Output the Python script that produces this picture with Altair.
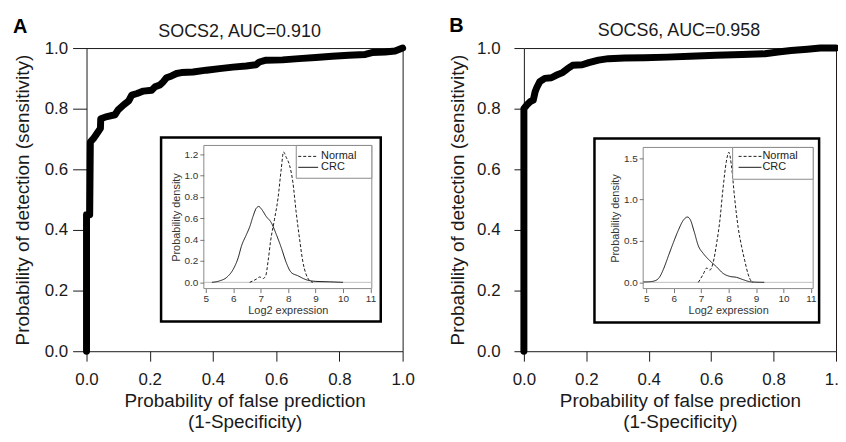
import altair as alt
import pandas as pd

FONT = "Liberation Sans"

# ---------------- data ----------------
series_names = ["Normal", "CRC"]
panel_letters = ["A", "B"]
panel_titles = ["SOCS2, AUC=0.910", "SOCS6, AUC=0.958"]
main_ticks = [0.0, 0.2, 0.4, 0.6, 0.8, 1.0]
inset_x_ticks = [5, 6, 7, 8, 9, 10, 11]
inset_y_ticks_a = [0.0, 0.2, 0.4, 0.6, 0.8, 1.0, 1.2]
inset_y_ticks_b = [0.0, 0.5, 1.0, 1.5]

roc_a_fpr = [0, 0, 0.01, 0.012, 0.023, 0.034, 0.044, 0.045, 0.065, 0.09,
             0.10, 0.117, 0.133, 0.143, 0.16, 0.18, 0.206, 0.217, 0.232, 0.243,
             0.253, 0.269, 0.285, 0.30, 0.337, 0.379, 0.421, 0.463, 0.505, 0.536,
             0.547, 0.568, 0.62, 0.672, 0.725, 0.777, 0.829, 0.882, 0.903, 0.945,
             0.976, 1.0]
roc_a_tpr = [0, 0.45, 0.45, 0.69, 0.703, 0.72, 0.735, 0.767, 0.774, 0.78,
             0.796, 0.812, 0.825, 0.845, 0.85, 0.858, 0.861, 0.872, 0.878, 0.889,
             0.902, 0.908, 0.916, 0.919, 0.921, 0.927, 0.932, 0.937, 0.941, 0.945,
             0.954, 0.96, 0.961, 0.965, 0.969, 0.973, 0.976, 0.979, 0.985, 0.987,
             0.99, 1.0]

roc_b_fpr = [0, 0, 0.009, 0.02, 0.03, 0.036, 0.041, 0.051, 0.067, 0.088,
             0.103, 0.124, 0.14, 0.156, 0.187, 0.208, 0.239, 0.271, 0.323, 0.386,
             0.459, 0.532, 0.615, 0.699, 0.772, 0.814, 0.856, 0.908, 0.95, 1.0]
roc_b_tpr = [0, 0.80, 0.812, 0.823, 0.828, 0.856, 0.869, 0.889, 0.90, 0.902,
             0.91, 0.919, 0.932, 0.943, 0.945, 0.952, 0.96, 0.965, 0.967, 0.968,
             0.97, 0.973, 0.976, 0.979, 0.981, 0.987, 0.992, 0.996, 1.0, 1.0]

dens_a_crc_x = [5.22, 5.52, 5.76, 6.0, 6.18, 6.30, 6.48, 6.6, 6.72, 6.84,
                6.93, 7.02, 7.2, 7.39, 7.57, 7.75, 7.93, 8.11, 8.35, 8.65,
                9.01, 9.5, 10.0]
dens_a_crc_y = [0.0, 0.015, 0.046, 0.123, 0.23, 0.34, 0.447, 0.52, 0.617, 0.694,
                0.71, 0.688, 0.617, 0.556, 0.447, 0.324, 0.185, 0.093, 0.062, 0.025,
                0.009, 0.005, 0.0]
dens_a_nor_x = [6.6, 6.84, 6.96, 7.08, 7.18, 7.27, 7.36, 7.5, 7.63, 7.75,
                7.83, 7.93, 8.05, 8.17, 8.29, 8.41, 8.53, 8.65, 8.77, 8.9]
dens_a_nor_y = [0.0, 0.03, 0.05, 0.035, 0.06, 0.2, 0.386, 0.586, 0.787, 1.065,
                1.22, 1.17, 1.096, 0.94, 0.66, 0.417, 0.2, 0.077, 0.02, 0.0]

dens_b_crc_x = [4.9, 5.14, 5.33, 5.48, 5.63, 5.81, 5.99, 6.17, 6.35, 6.5,
                6.6, 6.74, 6.9, 7.08, 7.32, 7.56, 7.8, 8.04, 8.29, 8.53,
                8.77, 9.0, 9.3]
dens_b_crc_y = [0.005, 0.008, 0.02, 0.06, 0.16, 0.32, 0.48, 0.628, 0.748, 0.788,
                0.76, 0.62, 0.44, 0.348, 0.26, 0.188, 0.108, 0.072, 0.06, 0.032,
                0.008, 0.002, 0.0]
dens_b_nor_x = [6.9, 7.08, 7.2, 7.32, 7.44, 7.56, 7.68, 7.8, 7.92, 8.01,
                8.1, 8.22, 8.35, 8.47, 8.59, 8.71, 8.83, 8.89]
dens_b_nor_y = [0.0, 0.1, 0.172, 0.148, 0.24, 0.46, 0.74, 1.14, 1.46, 1.57,
                1.42, 1.02, 0.66, 0.44, 0.26, 0.1, 0.012, 0.0]

# ---------------- layout (pixels, relative to each plot area) ----------------
H = 305
geom_a = dict(W=318, box=(75, 296, 90, 275), frame=(118, 287, 98, 242),
              xdom=[4.928, 11.047], ydom=[-0.0586, 1.281],
              leg=(211, 287, 98, 131), legline=(213, 233), legtext=236,
              rows=(109, 120), letter=(-74, -21), title=(154, -16),
              ytick=14, ylabpad=5, ytitlepad=12)
geom_b = dict(W=314, box=(71, 297, 91, 276), frame=(120, 291, 100, 242),
              xdom=[4.89, 11.08], ydom=[-0.0756, 1.628],
              leg=(210, 291, 100, 132), legline=(216, 239), legtext=240,
              rows=(109, 120), letter=(-75, -22), title=(156, -17),
              ytick=10, ylabpad=14, ytitlepad=9)

INK = "#1a1a1a"
one = alt.Data(values=[{"k": 0}])


def rect_px(x0, x1, y0, y1, **mk):
    return alt.Chart(one).mark_rect(**mk).encode(
        x=alt.value(x0), x2=alt.value(x1), y=alt.value(y0), y2=alt.value(y1))


def panel(letter, title, fpr, tpr, nor_x, nor_y, crc_x, crc_y, ytick_vals, g):
    W = g["W"]
    roc_df = pd.DataFrame({"fpr": fpr, "tpr": tpr, "i": range(len(fpr))})
    roc = alt.Chart(roc_df).mark_line(
        strokeWidth=7, strokeCap="round", strokeJoin="round", color="black"
    ).encode(
        x=alt.X("fpr:Q", scale=alt.Scale(domain=[0, 1], nice=False, zero=False),
                axis=alt.Axis(values=main_ticks, format=".1f", tickSize=10,
                              tickColor=INK, domain=False, grid=False,
                              labelFontSize=17, labelPadding=10, labelColor=INK,
                              labelFlush=False,
                              title=["Probability of false prediction", "(1-Specificity)"],
                              titleFontSize=19, titleFontWeight="normal",
                              titlePadding=5, titleColor=INK, titleLineHeight=21)),
        y=alt.Y("tpr:Q", scale=alt.Scale(domain=[0, 1], nice=False, zero=False),
                axis=alt.Axis(values=main_ticks, format=".1f", tickSize=g["ytick"],
                              tickColor=INK, domain=False, grid=False,
                              labelFontSize=17, labelPadding=g["ylabpad"], labelColor=INK,
                              title="Probability of detection (sensitivity)",
                              titleFontSize=19, titleFontWeight="normal",
                              titlePadding=g["ytitlepad"], titleColor=INK)),
        order="i:Q",
    )

    bx0, bx1, by0, by1 = g["box"]
    fx0, fx1, fy0, fy1 = g["frame"]
    box = rect_px(bx0, bx1, by0, by1, fill="white", stroke="black", strokeWidth=2.5)
    frame = rect_px(fx0, fx1, fy0, fy1, fill="white", stroke="#8a8a8a", strokeWidth=1)

    xs = alt.Scale(domain=g["xdom"], range=[fx0, fx1], nice=False, zero=False)
    ys = alt.Scale(domain=g["ydom"], range=[fy1, fy0], nice=False, zero=False)

    zero = alt.Chart(pd.DataFrame({"y": [0.0]})).mark_rule(
        color="#bdbdbd", strokeWidth=1
    ).encode(y=alt.Y("y:Q", scale=ys, axis=None),
             x=alt.value(fx0), x2=alt.value(fx1))

    dens_df = pd.concat([
        pd.DataFrame({"x": nor_x, "y": nor_y, "series": series_names[0],
                      "i": range(len(nor_x))}),
        pd.DataFrame({"x": crc_x, "y": crc_y, "series": series_names[1],
                      "i": range(len(crc_x))}),
    ])
    dens = alt.Chart(dens_df).mark_line(
        strokeWidth=1, color=INK, interpolate="monotone"
    ).encode(
        x=alt.X("x:Q", scale=xs,
                axis=alt.Axis(orient="bottom", offset=-(H - fy1), values=inset_x_ticks,
                              format="d", tickSize=4, tickColor="#777", domain=False,
                              grid=False, labelFontSize=10, labelPadding=1,
                              labelColor="#333", labelFlush=False,
                              title="Log2 expression", titleFontSize=11,
                              titleFontWeight="normal", titlePadding=1,
                              titleColor="#333", zindex=2)),
        y=alt.Y("y:Q", scale=ys,
                axis=alt.Axis(orient="left", offset=-fx0, values=ytick_vals,
                              format=".1f", tickSize=4, tickColor="#777", domain=False,
                              grid=False, labelFontSize=10, labelPadding=2,
                              labelColor="#333", title="Probability density",
                              titleFontSize=11, titleFontWeight="normal",
                              titlePadding=3, titleColor="#333", zindex=2)),
        strokeDash=alt.StrokeDash("series:N",
                                  scale=alt.Scale(domain=series_names,
                                                  range=[[3, 2], [1, 0]]),
                                  legend=None),
        detail="series:N",
        order="i:Q",
    )

    lx0, lx1, ly0, ly1 = g["leg"]
    leg_box = rect_px(lx0, lx1, ly0, ly1, fill="white", stroke="#8a8a8a", strokeWidth=1)
    l0, l1 = g["legline"]
    r0, r1 = g["rows"]
    leg_nor = alt.Chart(one).mark_rule(color=INK, strokeWidth=1, strokeDash=[3, 2]).encode(
        x=alt.value(l0), x2=alt.value(l1), y=alt.value(r0))
    leg_crc = alt.Chart(one).mark_rule(color=INK, strokeWidth=1).encode(
        x=alt.value(l0), x2=alt.value(l1), y=alt.value(r1))
    txt_nor = alt.Chart(one).mark_text(text=series_names[0], align="left",
                                       baseline="middle", fontSize=11, color="#222").encode(
        x=alt.value(g["legtext"]), y=alt.value(r0))
    txt_crc = alt.Chart(one).mark_text(text=series_names[1], align="left",
                                       baseline="middle", fontSize=11, color="#222").encode(
        x=alt.value(g["legtext"]), y=alt.value(r1))

    tx, ty = g["title"]
    ttl = alt.Chart(one).mark_text(text=title, align="center", baseline="middle",
                                   fontSize=18, color=INK).encode(
        x=alt.value(tx), y=alt.value(ty))
    lx, ly = g["letter"]
    let = alt.Chart(one).mark_text(text=letter, align="left", baseline="middle",
                                   fontSize=20, fontWeight="bold", color="black").encode(
        x=alt.value(lx), y=alt.value(ly))

    return alt.layer(
        roc, box, frame, zero, dens, leg_box, leg_nor, leg_crc, txt_nor, txt_crc, ttl, let
    ).resolve_scale(x="independent", y="independent").properties(width=W, height=H)


pa = panel(panel_letters[0], panel_titles[0], roc_a_fpr, roc_a_tpr,
           dens_a_nor_x, dens_a_nor_y, dens_a_crc_x, dens_a_crc_y, inset_y_ticks_a, geom_a)
pb = panel(panel_letters[1], panel_titles[1], roc_b_fpr, roc_b_tpr,
           dens_b_nor_x, dens_b_nor_y, dens_b_crc_x, dens_b_crc_y, inset_y_ticks_b, geom_b)

chart = alt.hconcat(pa, pb, spacing=32).properties(
    padding={"left": 4, "top": 6, "right": -11, "bottom": 0},
    background="white",
).configure(font=FONT).configure_view(stroke=INK, strokeWidth=1)

chart.save("out.html", embed_options={"renderer": "svg", "actions": False})
